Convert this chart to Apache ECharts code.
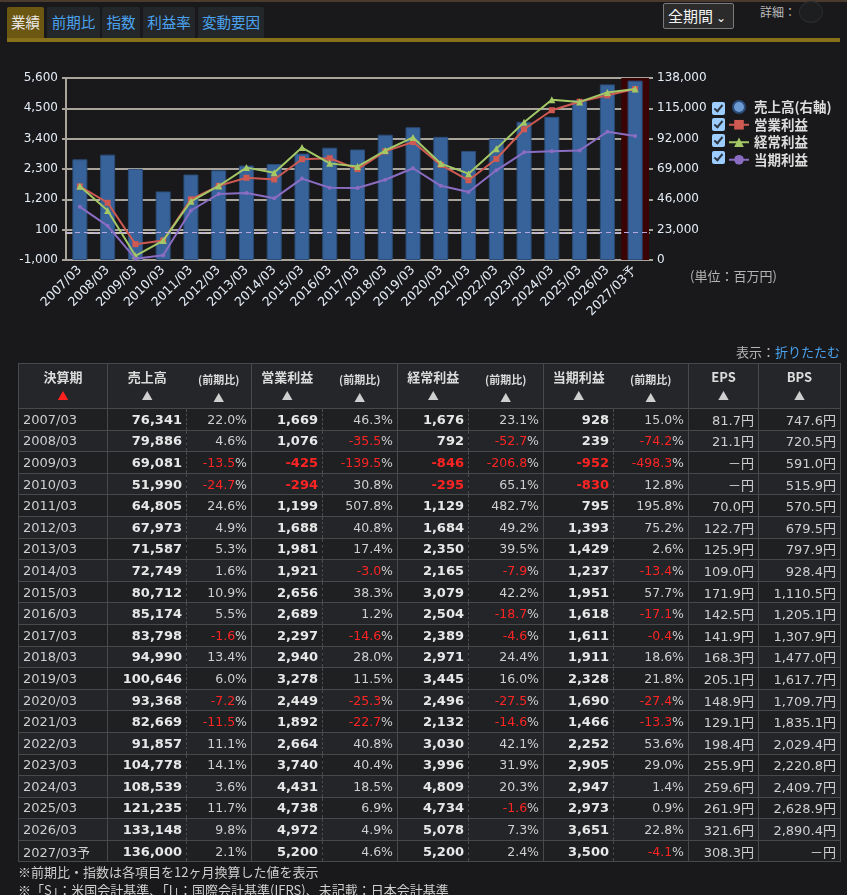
<!DOCTYPE html>
<html><head><meta charset="utf-8">
<script src="https://cdn.jsdelivr.net/npm/echarts/dist/echarts.min.js"></script>
<style>
html,body{margin:0;padding:0;background:#19191b;width:847px;height:895px;overflow:hidden;font-family:"DejaVu Sans","Noto Sans CJK JP",sans-serif;}
.abs{position:absolute;}
#topline{left:0;top:0;width:847px;height:2px;background:#4b3a2e;}
.tab{position:absolute;top:7px;height:31px;line-height:29px;font-family:"Noto Sans CJK JP";font-size:14.5px;color:#4ba3f0;background:#23272a;text-align:center;border-radius:2px 2px 0 0;}
.tab.on{background:#6b5712;color:#e8e8e8;}
#goldline{left:7px;top:38px;width:833px;height:4px;background:#86701a;}
#sel{left:663px;top:3px;width:65px;height:24px;border:1px solid #7a7a7a;border-radius:2px;background:#2b2b2c;color:#f4f4f4;font-family:"Noto Sans CJK JP";font-size:15px;line-height:23px;padding-left:4px;box-sizing:content-box;}
#detail{left:760px;top:3px;color:#bcbcbc;font-family:"Noto Sans CJK JP";font-size:12px;}
#knob{left:799px;top:1px;width:22px;height:20px;border-radius:50%;background:#1d1e20;border:1px solid #2c2d30;}
#chart{left:0;top:0;width:847px;height:345px;}
.cb{position:absolute;left:712px;width:13px;height:13px;background:#9dcdff;border-radius:2px;}
.cb::after{content:"";position:absolute;left:4px;top:1px;width:3px;height:7px;border:solid #2d3642;border-width:0 2px 2px 0;transform:rotate(40deg);}
#unit{left:690px;top:266px;color:#b4b4b4;font-family:"Noto Sans CJK JP";font-size:13px;}
#fold{right:7px;top:342px;color:#b4b4b4;font-family:"Noto Sans CJK JP";font-size:13px;}
#fold span{color:#4ba3f0;}
table{position:absolute;left:18px;top:363px;border-collapse:collapse;table-layout:fixed;width:822px;}
td,th{padding:0 4px;overflow:hidden;white-space:nowrap;}
th{background:#242629;color:#dcdcdc;font-family:"Noto Sans CJK JP";font-size:13px;font-weight:bold;height:37px;border:1px solid #48494b;vertical-align:top;padding-top:4px;line-height:17px;text-align:center;}
th.c{font-size:11px;border-left:none;padding-top:7px;}
th.v{border-right:none;}
th .tri{display:block;font-size:11px;color:#cfcfcf;margin-top:2px;}
th.c .tri{margin-top:1px;}
th .tri.red{color:#ff2020;}
td{height:20.6px;border:1px solid #48494b;font-size:13px;color:#cfcfcf;text-align:right;}
td.p{text-align:left;}
td.v{font-weight:bold;color:#e8e8e8;border-right:1px dashed #4a4b4d;}
td.c{border-left:1px dashed #4a4b4d;font-size:12.5px;}
tr.r0 td{background:#1e2022;}
tr.r1 td{background:#232528;}
.neg{color:#ff2424;}
#note1{left:18px;top:862px;color:#cfcfcf;font-family:"Noto Sans CJK JP";font-size:13px;}
#note2{left:18px;top:880px;color:#cfcfcf;font-family:"Noto Sans CJK JP";font-size:13px;}
</style></head>
<body>
<div id="topline" class="abs"></div>
<div class="tab on" style="left:7px;width:37px;">業績</div>
<div class="tab" style="left:47px;width:53px;">前期比</div>
<div class="tab" style="left:102px;width:38px;">指数</div>
<div class="tab" style="left:143px;width:52px;">利益率</div>
<div class="tab" style="left:198px;width:66px;">変動要因</div>
<div id="goldline" class="abs"></div>
<div id="sel" class="abs">全期間<span style="font-size:12px;margin-left:3px;">&#8964;</span></div>
<div id="detail" class="abs">詳細：</div>
<div id="knob" class="abs"></div>
<div id="chart" class="abs"></div>
<div class="cb" style="top:102px;"></div>
<div class="cb" style="top:118px;"></div>
<div class="cb" style="top:134px;"></div>
<div class="cb" style="top:151px;"></div>
<div id="unit" class="abs">(単位：百万円)</div>
<div id="fold" class="abs">表示：<span>折りたたむ</span></div>
<table id="tbl"></table>
<div id="note1" class="abs">※前期比・指数は各項目を12ヶ月換算した値を表示</div>
<div id="note2" class="abs">※「S」：米国会計基準、「I」：国際会計基準(IFRS)、未記載：日本会計基準</div>
<script>
const periods = ['2007/03','2008/03','2009/03','2010/03','2011/03','2012/03','2013/03','2014/03','2015/03','2016/03','2017/03','2018/03','2019/03','2020/03','2021/03','2022/03','2023/03','2024/03','2025/03','2026/03','2027/03予'];
const sales = [76341,79886,69081,51990,64805,67973,71587,72749,80712,85174,83798,94990,100646,93368,82669,91857,104778,108539,121235,133148,136000];
const salesChg = ['22.0','4.6','-13.5','-24.7','24.6','4.9','5.3','1.6','10.9','5.5','-1.6','13.4','6.0','-7.2','-11.5','11.1','14.1','3.6','11.7','9.8','2.1'];
const opProfit = [1669,1076,-425,-294,1199,1688,1981,1921,2656,2689,2297,2940,3278,2449,1892,2664,3740,4431,4738,4972,5200];
const opChg = ['46.3','-35.5','-139.5','30.8','507.8','40.8','17.4','-3.0','38.3','1.2','-14.6','28.0','11.5','-25.3','-22.7','40.8','40.4','18.5','6.9','4.9','4.6'];
const ordProfit = [1676,792,-846,-295,1129,1684,2350,2165,3079,2504,2389,2971,3445,2496,2132,3030,3996,4809,4734,5078,5200];
const ordChg = ['23.1','-52.7','-206.8','65.1','482.7','49.2','39.5','-7.9','42.2','-18.7','-4.6','24.4','16.0','-27.5','-14.6','42.1','31.9','20.3','-1.6','7.3','2.4'];
const netProfit = [928,239,-952,-830,795,1393,1429,1237,1951,1618,1611,1911,2328,1690,1466,2252,2905,2947,2973,3651,3500];
const netChg = ['15.0','-74.2','-498.3','12.8','195.8','75.2','2.6','-13.4','57.7','-17.1','-0.4','18.6','21.8','-27.4','-13.3','53.6','29.0','1.4','0.9','22.8','-4.1'];
const eps = ['81.7','21.1','－','－','70.0','122.7','125.9','109.0','171.9','142.5','141.9','168.3','205.1','148.9','129.1','198.4','255.9','259.6','261.9','321.6','308.3'];
const bps = ['747.6','720.5','591.0','515.9','570.5','679.5','797.9','928.4','1,110.5','1,205.1','1,307.9','1,477.0','1,617.7','1,709.7','1,835.1','2,029.4','2,220.8','2,409.7','2,628.9','2,890.4','－'];
const leftTicks = {min:-1000, max:5600, interval:1100};
const rightTicks = {min:0, max:138000, interval:23000};
const headers = ['決算期','売上高','(前期比)','営業利益','(前期比)','経常利益','(前期比)','当期利益','(前期比)','EPS','BPS'];

// table
const colW = [89,79,65,71,75,71,75,70,75,70,82];
const fmt = v => v.toLocaleString('en-US');
let h = '<colgroup>' + colW.map(w=>'<col style="width:'+w+'px">').join('') + '</colgroup><tr>';
headers.forEach((t,i)=>{
  let cls = '';
  if (i===1||i===3||i===5||i===7) cls='v';
  if (i===2||i===4||i===6||i===8) cls='c';
  h += '<th class="'+cls+'">'+t+'<span class="tri'+(i===0?' red':'')+'">▲</span></th>';
});
h += '</tr>';
const chg = s => (s.startsWith('-') ? '<span class="neg">'+s+'</span>' : s) + '%';
const val = v => v<0 ? '<span class="neg">'+fmt(v)+'</span>' : fmt(v);
periods.forEach((p,i)=>{
  h += '<tr class="r'+(i%2)+'"><td class="p">'+p+'</td>'+
    '<td class="v">'+val(sales[i])+'</td><td class="c">'+chg(salesChg[i])+'</td>'+
    '<td class="v">'+val(opProfit[i])+'</td><td class="c">'+chg(opChg[i])+'</td>'+
    '<td class="v">'+val(ordProfit[i])+'</td><td class="c">'+chg(ordChg[i])+'</td>'+
    '<td class="v">'+val(netProfit[i])+'</td><td class="c">'+chg(netChg[i])+'</td>'+
    '<td>'+eps[i]+'円</td><td>'+bps[i]+'円</td></tr>';
});
document.getElementById('tbl').innerHTML = h;

// chart
const chart = echarts.init(document.getElementById('chart'));
const lblColor = '#e4ecf6';
const gridColor = '#a9a59d';
const highlight = periods.map(p => p.endsWith('予') ? rightTicks.max : null);
chart.setOption({
  animation:false,
  grid:{left:66, top:78, width:583, height:182},
  legend:{
    orient:'vertical', left:723, top:95, itemWidth:20, itemHeight:12, itemGap:4,
    textStyle:{color:'#dcdcdc', fontSize:13.5, fontWeight:'bold', fontFamily:'Noto Sans CJK JP'},
    data:[{name:'売上高(右軸)', icon:'circle', itemStyle:{color:'#6b9bd2'}}, '営業利益','経常利益','当期利益']
  },
  xAxis:[
    {type:'category', data:periods,
     axisLine:{lineStyle:{color:'#c4c0b8', width:2}},
     axisTick:{inside:true, length:6, lineStyle:{color:'#cfcfcf'}},
     axisLabel:{rotate:45, interval:0, color:lblColor, fontSize:12.5, fontFamily:'DejaVu Sans', margin:8}},
    {type:'category', data:periods, show:false}
  ],
  yAxis:[
    {type:'value', min:leftTicks.min, max:leftTicks.max, interval:leftTicks.interval,
     axisLine:{show:true, lineStyle:{color:gridColor, width:2}},
     axisTick:{show:true, length:4, lineStyle:{color:gridColor, width:2}},
     splitLine:{lineStyle:{color:gridColor, width:2}},
     axisLabel:{color:lblColor, fontSize:12, fontFamily:'DejaVu Sans', margin:8, formatter:v=>fmt(v)}},
    {type:'value', min:rightTicks.min, max:rightTicks.max, interval:rightTicks.interval, position:'right',
     axisLine:{show:false},
     axisTick:{show:true, length:4, lineStyle:{color:gridColor, width:2}},
     splitLine:{show:false},
     axisLabel:{color:lblColor, fontSize:12, fontFamily:'DejaVu Sans', margin:8, formatter:v=>fmt(v)}}
  ],
  series:[
    {type:'bar', name:'予', xAxisIndex:1, yAxisIndex:1, data:highlight, barWidth:'100%', silent:true,
     itemStyle:{color:'#3a0404'}, z:1},
    {type:'bar', name:'売上高(右軸)', xAxisIndex:0, yAxisIndex:1, data:sales, barWidth:15,
     itemStyle:{color:'#37639a', borderColor:'#2b4d78', borderWidth:1}, z:2},
    {type:'line', name:'営業利益', yAxisIndex:0, data:opProfit, symbol:'rect', symbolSize:6,
     lineStyle:{color:'#cf5a52', width:2}, itemStyle:{color:'#cf5a52'}, z:3,
     markLine:{silent:true, symbol:'none', label:{show:false},
       lineStyle:{type:[5,4], color:'#b9a8de', width:1}, data:[{yAxis:0}]}},
    {type:'line', name:'経常利益', yAxisIndex:0, data:ordProfit, symbol:'triangle', symbolSize:7,
     lineStyle:{color:'#a4c866', width:2}, itemStyle:{color:'#a4c866'}, z:4},
    {type:'line', name:'当期利益', yAxisIndex:0, data:netProfit, symbol:'circle', symbolSize:4,
     lineStyle:{color:'#8b6cc3', width:2}, itemStyle:{color:'#8b6cc3'}, z:5}
  ]
});
</script>
</body></html>
